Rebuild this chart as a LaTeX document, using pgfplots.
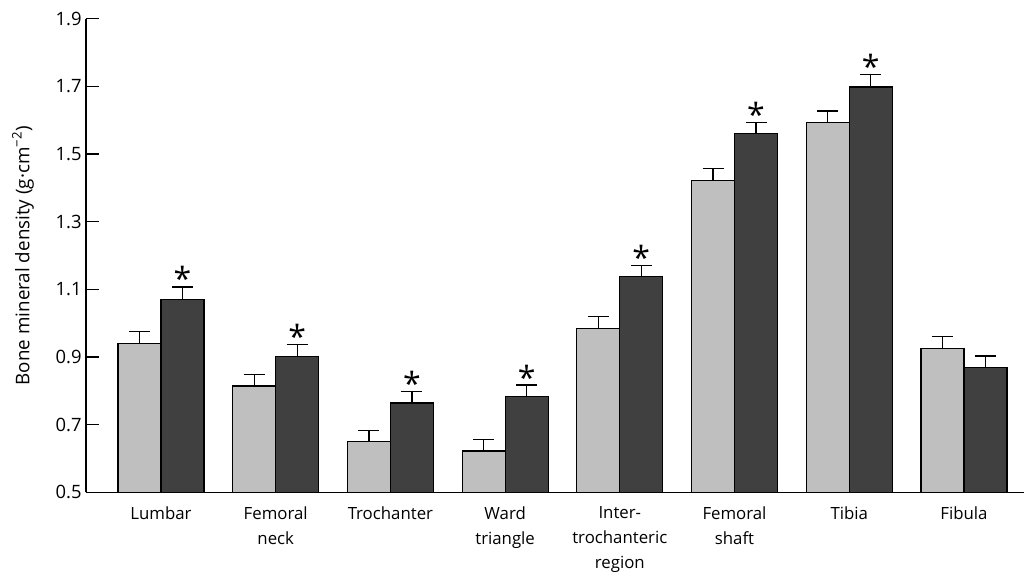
\documentclass[border=0pt]{standalone}
\usepackage{pgfplots}
\pgfplotsset{compat=1.18}
\usepackage{fontspec}
\setmainfont{Open Sans}
\definecolor{lightbar}{HTML}{BFBFBF}
\definecolor{darkbar}{HTML}{404040}
\begin{document}
\begin{tikzpicture}
\begin{axis}[
  name=ax,
  scale only axis,
  width=469pt, height=236.8pt,
  xmin=-0.654, xmax=7.524,
  ymin=0.5, ymax=1.9,
  ytick={0.5,0.7,...,1.9},
  xtick={0,...,7},
  xticklabels={Lumbar,Femoral\\neck,Trochanter,Ward\\triangle,Inter-\\trochanteric\\region,Femoral\\shaft,Tibia,Fibula},
  axis lines*=left,
  axis line style={-, line width=0.6pt, black},
  tick align=inside,
  major tick length=6.5pt,
  ytick style={line width=0.6pt, black},
  xtick style={draw=none},
  font=\fontsize{8.4}{12.5}\selectfont,
  xticklabel style={font=\fontsize{8.4}{12.5}\selectfont},
  yticklabel style={font=\fontsize{9.2}{12.5}\selectfont, /pgf/number format/.cd, fixed, fixed zerofill, precision=1, assume math mode=true, /tikz/.cd, inner sep=2pt},
  xticklabel style={align=center, anchor=north, inner sep=0pt, yshift=-0.3pt},
  ylabel={Bone mineral density (g·cm\textsuperscript{−2})},
  every axis y label/.style={at={(axis description cs:0,0.5)}, rotate=90, anchor=base, yshift=28.35pt, font=\fontsize{9.4}{12.5}\selectfont},
  ybar,
  bar width=0.375,
  error bars/error bar style={line width=0.6pt, black},
  error bars/error mark options={rotate=90, mark size=5.25pt, line width=0.6pt, black},
]
\addplot[bar shift=-0.1875, fill=lightbar, draw=black, line width=0.6pt,
  error bars/.cd, y dir=plus, y explicit] coordinates {
  (0,0.941) +- (0,0.034)
  (1,0.814) +- (0,0.034)
  (2,0.649) +- (0,0.033)
  (3,0.622) +- (0,0.035)
  (4,0.985) +- (0,0.034)
  (5,1.4225) +- (0,0.034)
  (6,1.592) +- (0,0.035)
  (7,0.926) +- (0,0.034)
};
\addplot[bar shift=0.1875, fill=darkbar, draw=black, line width=0.6pt,
  error bars/.cd, y dir=plus, y explicit] coordinates {
  (0,1.070) +- (0,0.037)
  (1,0.901) +- (0,0.035)
  (2,0.764) +- (0,0.035)
  (3,0.783) +- (0,0.034)
  (4,1.138) +- (0,0.032)
  (5,1.560) +- (0,0.034)
  (6,1.698) +- (0,0.036)
  (7,0.8695) +- (0,0.0335)
};
\addplot[draw=none, mark=none, nodes near coords={*},
  every node near coord/.style={anchor=base, inner sep=0pt, yshift=-2pt, font=\fontsize{16}{16}\selectfont, black}]
  coordinates {
  (0.1875,1.107)
  (1.1875,0.936)
  (2.1875,0.799)
  (3.1875,0.817)
  (4.1875,1.170)
  (5.1875,1.594)
  (6.1875,1.734)
};
\end{axis}
\pgfresetboundingbox
\path (ax.south west) ++(-43pt,-40.85pt) rectangle ++(512.5pt,287pt);
\end{tikzpicture}
\end{document}
